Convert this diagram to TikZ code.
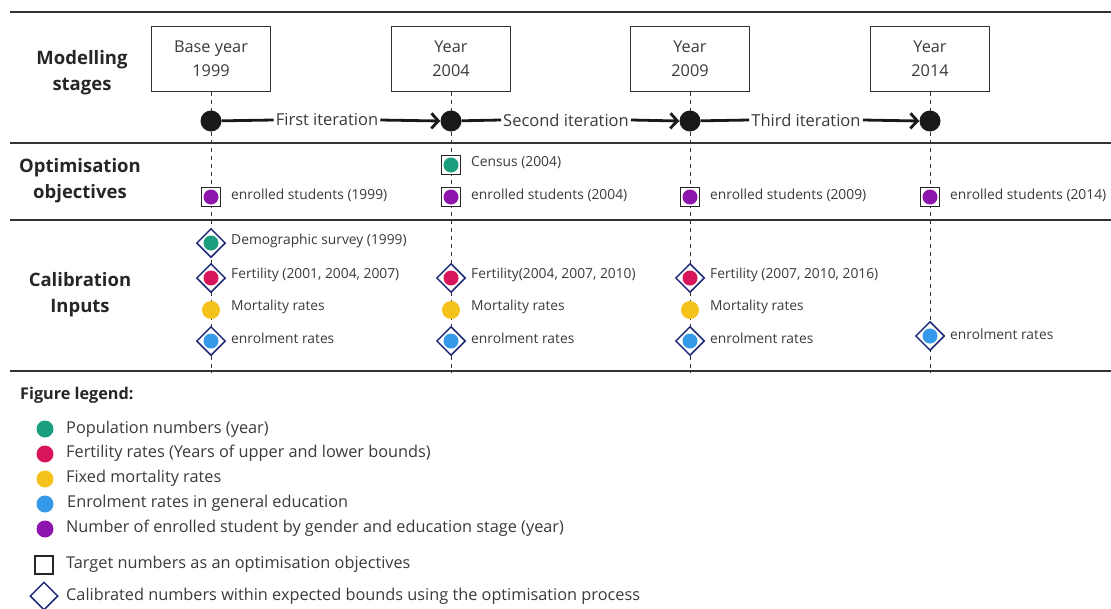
\documentclass[tikz,border=0pt]{standalone}
\usepackage{fontspec}
\setmainfont{Open Sans}
\usetikzlibrary{arrows.meta,shapes.geometric}
\definecolor{popc}{HTML}{1A9E7E}
\definecolor{ferc}{HTML}{D8145C}
\definecolor{morc}{HTML}{F5C21B}
\definecolor{enrc}{HTML}{3399E8}
\definecolor{stuc}{HTML}{8E14AE}
\definecolor{navyc}{HTML}{1F2A78}
\definecolor{txtc}{HTML}{3A3A3A}
\definecolor{linec}{HTML}{333333}
\tikzset{
  hline/.style={line width=2.2pt, draw=linec},
  stagebox/.style={draw=linec, line width=1pt, minimum width=119pt, minimum height=65pt, align=center, inner sep=0pt, text=txtc, font=\fontsize{16.3}{24}\selectfont},
  bigdot/.style={circle, fill=black!90, minimum size=21pt, inner sep=0pt},
  vdash/.style={draw=linec, line width=0.9pt, dash pattern=on 4pt off 4pt},
  objsq/.style={draw=black!85, line width=1.4pt, minimum size=19pt, inner sep=0pt, fill=white},
  caldia/.style={diamond, draw=navyc, line width=1.5pt, minimum size=29pt, inner sep=0pt, fill=white},
  inner/.style={circle, minimum size=15pt, inner sep=0pt},
  plaindot/.style={circle, minimum size=18pt, inner sep=0pt},
  lbl/.style={anchor=west, text=txtc, inner sep=0pt, font=\fontsize{13.8}{15}\selectfont},
  title/.style={align=center, text=black!85, font=\bfseries\fontsize{18.5}{26}\selectfont},
  itertext/.style={text=txtc, inner sep=2pt, font=\fontsize{16.5}{18}\selectfont},
  iterline/.style={line width=2.8pt, draw=black!90},
  legtext/.style={anchor=west, text=txtc, inner sep=0pt, font=\fontsize{16.3}{18}\selectfont},
  legdot/.style={circle, minimum size=17pt, inner sep=0pt},
}
\begin{document}
\begin{tikzpicture}[x=1pt,y=-1pt]
\useasboundingbox (0,0) rectangle (1111,608);
% horizontal rules
\draw[hline] (10,12) -- (1111,12);
\draw[hline] (10,143) -- (1111,143);
\draw[hline] (10,220) -- (1111,220);
\draw[hline] (10,371) -- (1111,371);
% row titles
\node[title] (t1) at (82,73) {Modelling\\stages};
\node[title] (t2) at (80,181) {Optimisation\\objectives};
\node[title] (t3) at (80,295) {Calibration\\Inputs};
% stage boxes
\node[stagebox] (s1) at (211,59) {Base year\\1999};
\node[stagebox] (s2) at (451,59) {Year\\2004};
\node[stagebox] (s3) at (690,59) {Year\\2009};
\node[stagebox] (s4) at (930,59) {Year\\2014};
% bottom ends of dashed lines
\coordinate (e1) at (211,373);
\coordinate (e2) at (451,373);
\coordinate (e3) at (690,373);
\coordinate (e4) at (930,373);
\draw[vdash] (s1.south) -- (e1);
\draw[vdash] (s2.south) -- (e2);
\draw[vdash] (s3.south) -- (e3);
\draw[vdash] (s4.south) -- (e4);
% timeline dots
\node[bigdot] (d1) at (211,121) {};
\node[bigdot] (d2) at (451,121) {};
\node[bigdot] (d3) at (690,121) {};
\node[bigdot] (d4) at (930,121) {};
\node[itertext] (i1) at (327,120) {First iteration};
\node[itertext] (i2) at (566,120) {Second iteration};
\node[itertext] (i3) at (806,120) {Third iteration};
\draw[iterline] (d1) -- (i1.west);
\draw[iterline,-{Straight Barb[length=7pt,width=15pt]}] (i1.east) -- (d2.west);
\draw[iterline] (d2) -- (i2.west);
\draw[iterline,-{Straight Barb[length=7pt,width=15pt]}] (i2.east) -- (d3.west);
\draw[iterline] (d3) -- (i3.west);
\draw[iterline,-{Straight Barb[length=7pt,width=15pt]}] (i3.east) -- (d4.west);
% optimisation objectives
\node[objsq] (o1) at (211,197) {};
\node[inner, fill=stuc] at (o1) {};
\node[lbl] (ol1) at (231,195) {enrolled students (1999)};
\node[objsq] (o2a) at (451,165) {};
\node[inner, fill=popc] at (o2a) {};
\node[lbl] (ol2a) at (471,163) {Census (2004)};
\node[objsq] (o2) at (451,197) {};
\node[inner, fill=stuc] at (o2) {};
\node[lbl] (ol2) at (471,195) {enrolled students (2004)};
\node[objsq] (o3) at (690,197) {};
\node[inner, fill=stuc] at (o3) {};
\node[lbl] (ol3) at (710,195) {enrolled students (2009)};
\node[objsq] (o4) at (930,197) {};
\node[inner, fill=stuc] at (o4) {};
\node[lbl] (ol4) at (950,195) {enrolled students (2014)};
% calibration inputs column 1
\node[caldia] (c1a) at (211,243) {};
\node[inner, fill=popc] at (c1a) {};
\node[lbl] (cl1a) at (231,241) {Demographic survey (1999)};
\node[caldia] (c1b) at (211,278) {};
\node[inner, fill=ferc] at (c1b) {};
\node[lbl] (cl1b) at (231,275) {Fertility (2001, 2004, 2007)};
\node[plaindot, fill=morc] (c1c) at (211,310) {};
\node[lbl] (cl1c) at (231,307) {Mortality rates};
\node[caldia] (c1d) at (211,341) {};
\node[inner, fill=enrc] at (c1d) {};
\node[lbl] (cl1d) at (231,338) {enrolment rates};
% column 2
\node[caldia] (c2b) at (451,278) {};
\node[inner, fill=ferc] at (c2b) {};
\node[lbl] (cl2b) at (471,275) {Fertility(2004, 2007, 2010)};
\node[plaindot, fill=morc] (c2c) at (451,310) {};
\node[lbl] (cl2c) at (471,307) {Mortality rates};
\node[caldia] (c2d) at (451,341) {};
\node[inner, fill=enrc] at (c2d) {};
\node[lbl] (cl2d) at (471,338) {enrolment rates};
% column 3
\node[caldia] (c3b) at (690,278) {};
\node[inner, fill=ferc] at (c3b) {};
\node[lbl] (cl3b) at (710,275) {Fertility (2007, 2010, 2016)};
\node[plaindot, fill=morc] (c3c) at (690,310) {};
\node[lbl] (cl3c) at (710,307) {Mortality rates};
\node[caldia] (c3d) at (690,341) {};
\node[inner, fill=enrc] at (c3d) {};
\node[lbl] (cl3d) at (710,338) {enrolment rates};
% column 4
\node[caldia] (c4d) at (930,336) {};
\node[inner, fill=enrc] at (c4d) {};
\node[lbl] (cl4d) at (950,334) {enrolment rates};
% legend
\node[anchor=west, inner sep=0pt, text=black!85, font=\bfseries\fontsize{16.2}{18}\selectfont] (lg) at (20,395) {Figure legend:};
\node[legdot, fill=popc] (l1) at (45,429) {};
\node[legtext] (lt1) at (66,429) {Population numbers (year)};
\node[legdot, fill=ferc] (l2) at (45,454) {};
\node[legtext] (lt2) at (66,453) {Fertility rates (Years of upper and lower bounds)};
\node[legdot, fill=morc] (l3) at (45,479) {};
\node[legtext] (lt3) at (66,478) {Fixed mortality rates};
\node[legdot, fill=enrc] (l4) at (45,504) {};
\node[legtext] (lt4) at (67,503) {Enrolment rates in general education};
\node[legdot, fill=stuc] (l5) at (45,529) {};
\node[legtext] (lt5) at (66,528) {Number of enrolled student by gender and education stage (year)};
\node[draw=black!85, line width=1.5pt, minimum size=18pt, inner sep=0pt] (l6) at (44,565) {};
\node[legtext] (lt6) at (66,564) {Target numbers as an optimisation objectives};
\node[diamond, draw=navyc, line width=1.5pt, minimum size=28pt, inner sep=0pt] (l7) at (44,596) {};
\node[legtext] (lt7) at (66,596) {Calibrated numbers within expected bounds using the optimisation process};
\end{tikzpicture}
\end{document}
